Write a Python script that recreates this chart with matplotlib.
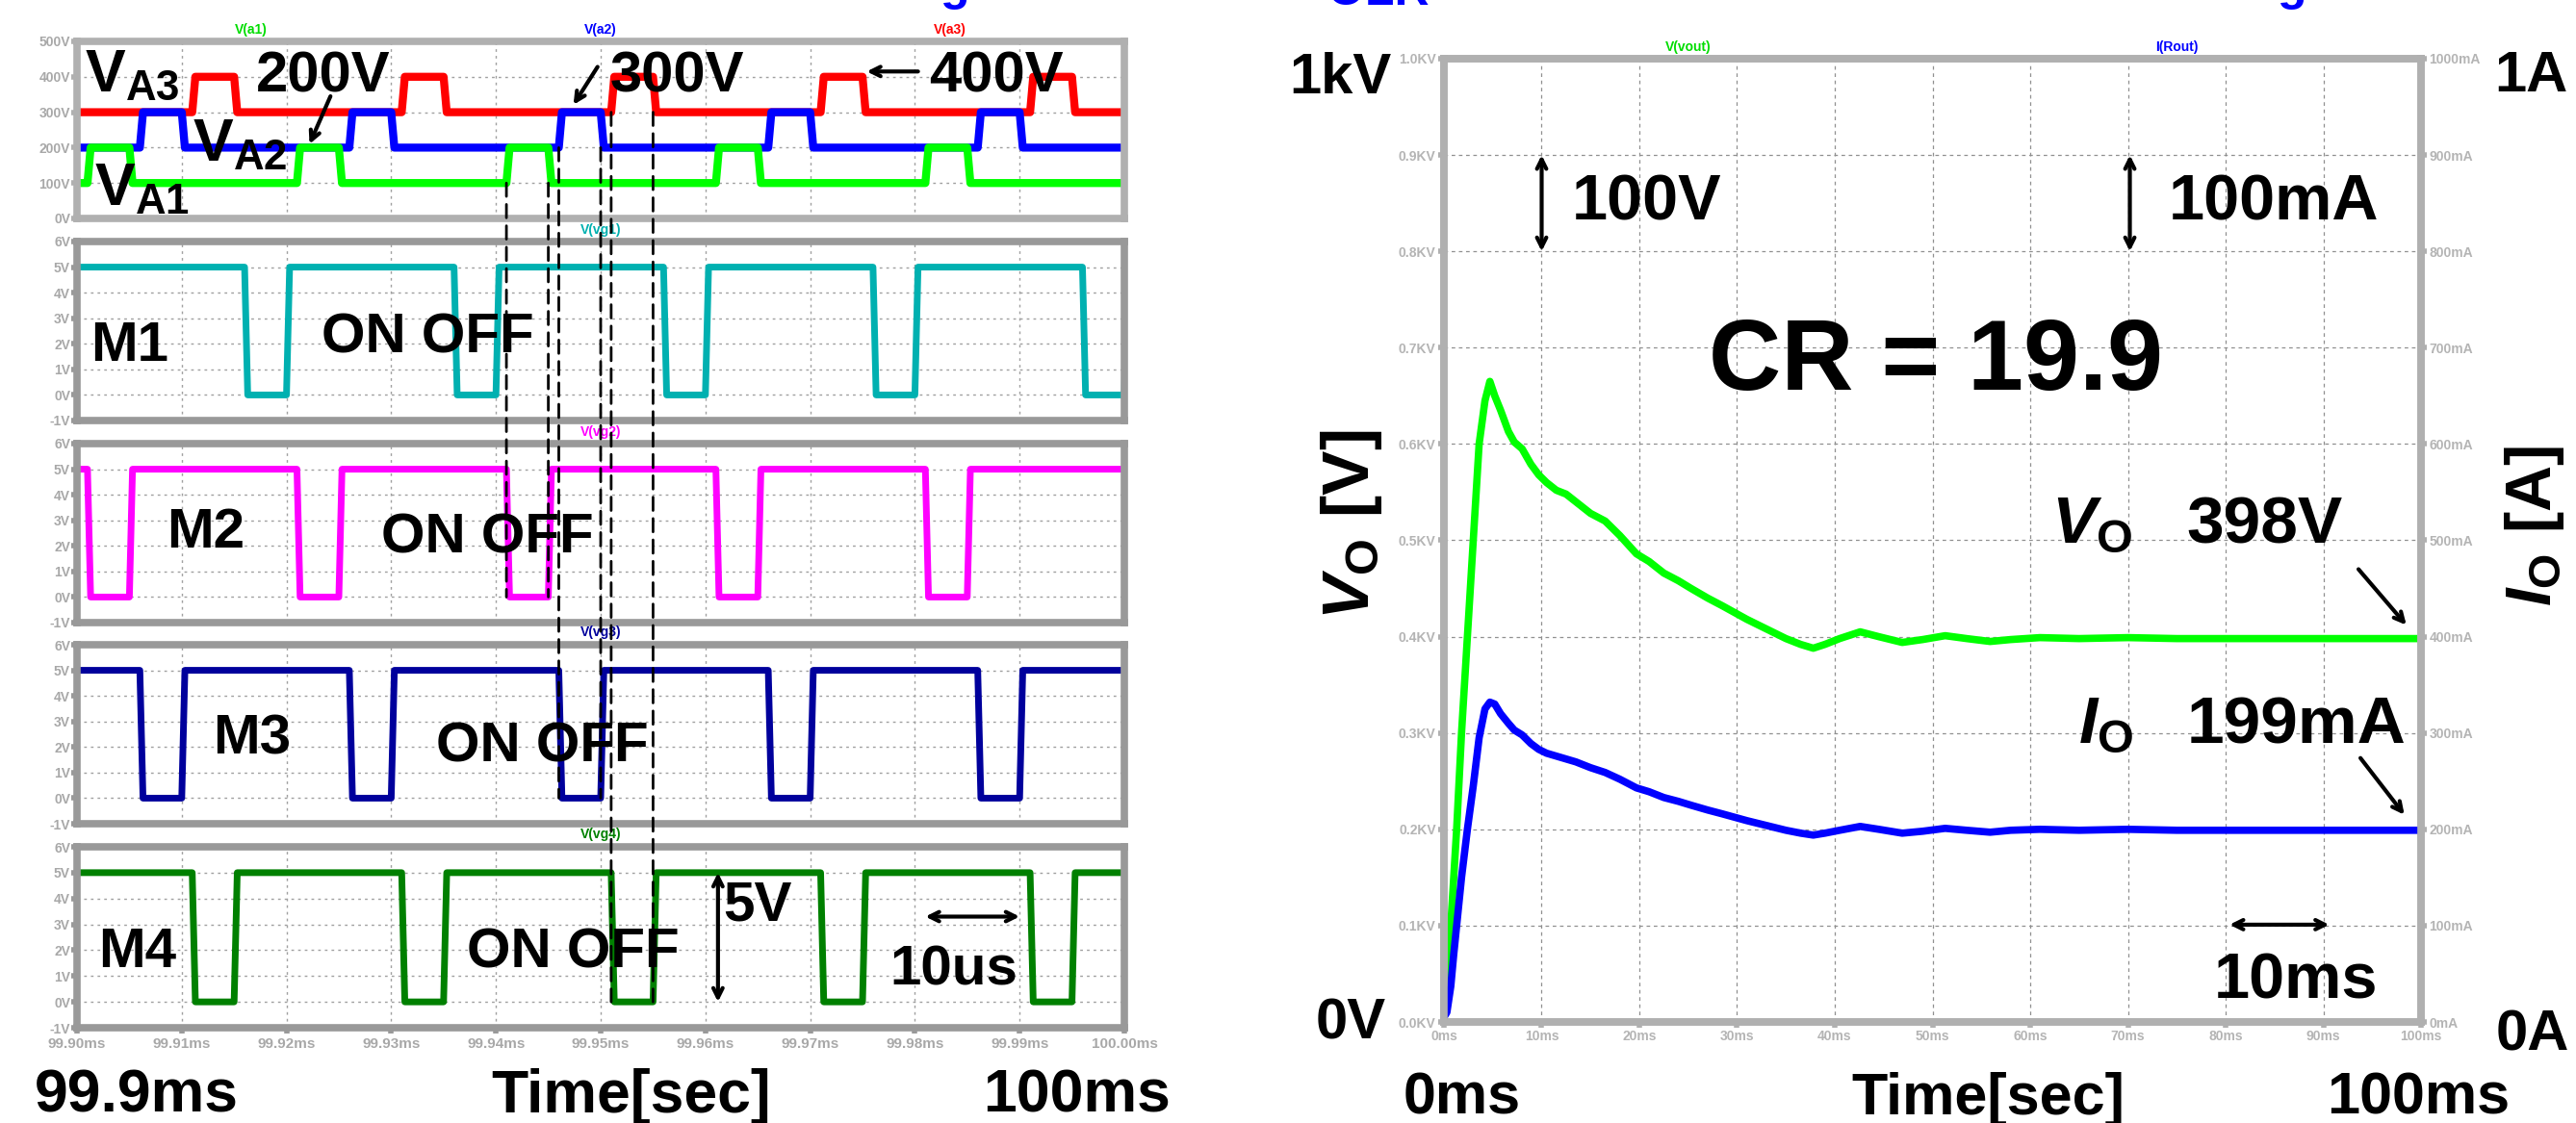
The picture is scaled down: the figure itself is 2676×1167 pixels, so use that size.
import matplotlib
matplotlib.use('Agg')
import matplotlib.pyplot as plt
from matplotlib.patches import ConnectionPatch
from matplotlib.ticker import FuncFormatter, MultipleLocator

plt.rcParams['font.family'] = ['Liberation Sans', 'DejaVu Sans']
plt.rcParams['font.weight'] = 'bold'
plt.rcParams['mathtext.fontset'] = 'custom'
plt.rcParams['mathtext.rm'] = 'Liberation Sans:bold'
plt.rcParams['mathtext.it'] = 'Liberation Sans:italic:bold'
plt.rcParams['mathtext.bf'] = 'Liberation Sans:bold'

# ---- left: time in us after 99.90 ms ----
va1_pulses = [(1, 5), (21, 25), (41, 45), (61, 65), (81, 85)]
va2_pulses = [(6, 10), (26, 30), (46, 50), (66, 70), (86, 90)]
va3_pulses = [(11, 15), (31, 35), (51, 55), (71, 75), (91, 95)]
va_low = [100, 200, 300]
va_high = [200, 300, 400]

m1_off = [(16, 20), (36, 40), (56, 60), (76, 80), (96, 100)]
m2_off = [(1, 5), (21, 25), (41, 45), (61, 65), (81, 85)]
m3_off = [(6, 10), (26, 30), (46, 50), (66, 70), (86, 90)]
m4_off = [(11, 15), (31, 35), (51, 55), (71, 75), (91, 95)]
gate_on, gate_off = 5, 0
gate_names = ['M1', 'M2', 'M3', 'M4']
gate_traces = ['V(vg1)', 'V(vg2)', 'V(vg3)', 'V(vg4)']

# dashed guide lines: time, VA level, gate panel
link_t = [41, 45, 46, 50, 51, 55]
link_lvl = [100, 100, 200, 200, 300, 300]
link_gate = [1, 1, 2, 2, 3, 3]

# ---- right: start-up transient ----
t_ms = [0, 0.3, 0.7, 1.0, 1.3, 1.8, 2.4, 3.0, 3.6, 4.2, 4.7, 5.2, 5.8, 6.6, 7.2, 8.0,
        8.9, 9.7, 10.5, 11.5, 12.5, 13.5, 15, 16.5, 18, 19.7, 21, 22.5, 24, 25.3, 27,
        28.5, 31, 33, 35, 36.5, 37.8, 39, 40.5, 42.6, 44.5, 46.9, 49, 51.3, 53.5, 55.9,
        58, 61, 65, 70, 75, 80, 90, 100]
vo_kv = [0.015, 0.05, 0.10, 0.15, 0.20, 0.30, 0.40, 0.50, 0.60, 0.645, 0.665, 0.650,
         0.635, 0.613, 0.602, 0.595, 0.579, 0.568, 0.560, 0.552, 0.548, 0.540, 0.528,
         0.520, 0.505, 0.486, 0.478, 0.466, 0.458, 0.450, 0.440, 0.432, 0.418, 0.408,
         0.398, 0.392, 0.388, 0.392, 0.398, 0.405, 0.400, 0.394, 0.397, 0.401, 0.398,
         0.395, 0.397, 0.399, 0.398, 0.399, 0.398, 0.398, 0.398, 0.398]
io_a = [0.005, 0.010, 0.037, 0.07, 0.10, 0.15, 0.20, 0.245, 0.295, 0.325, 0.332, 0.330,
        0.320, 0.310, 0.303, 0.298, 0.289, 0.283, 0.279, 0.276, 0.273, 0.270, 0.264,
        0.259, 0.252, 0.243, 0.239, 0.233, 0.229, 0.225, 0.220, 0.216, 0.209, 0.204,
        0.199, 0.196, 0.194, 0.196, 0.199, 0.203, 0.200, 0.196, 0.198, 0.201, 0.199,
        0.197, 0.199, 0.200, 0.199, 0.200, 0.199, 0.199, 0.199, 0.199]

W, H = 2676, 1167
fig = plt.figure(figsize=(W / 100, H / 100), dpi=100)


def box(l, t, r, b):
    return fig.add_axes([l / W, 1 - b / H, (r - l) / W, (b - t) / H])


def ftext(x, y, s, **kw):
    kw.setdefault('fontweight', 'bold')
    return fig.text(x / W, 1 - y / H, s, **kw)


def square_wave(pulses, base, top, edge=0.3, end=100):
    xs, ys = [0], [base]
    for a, b in pulses:
        xs += [a, a + edge, b, b + edge]
        ys += [base, top, top, base]
    if xs[-1] < end:
        xs.append(end)
        ys.append(base)
    return xs, ys


def style_left(ax, lo, hi, step, col):
    ax.set_xlim(0, 100)
    ax.set_ylim(lo, hi)
    ax.xaxis.set_major_locator(MultipleLocator(10))
    ax.yaxis.set_major_locator(MultipleLocator(step))
    ax.grid(True, color='#a0a0a0', lw=1, ls=(0, (2, 3)))
    ax.set_axisbelow(True)
    for s in ax.spines.values():
        s.set_color(col)
        s.set_linewidth(5.5)
    ax.tick_params(axis='y', length=4, width=4, color=col, labelcolor='#a8a8a8',
                   labelsize=10, pad=1)
    ax.yaxis.set_major_formatter(FuncFormatter(lambda v, p: f'{v:g}V'))
    ax.tick_params(axis='x', length=0, labelbottom=False)


def trace_label(ax, s, xf, col):
    ax.annotate(s, xy=(xf, 1), xycoords='axes fraction', xytext=(0, 9),
                textcoords='offset points', ha='center', va='center', color=col,
                fontsize=10, fontweight='bold', annotation_clip=False)


arrow1 = dict(arrowstyle='->,head_length=0.7,head_width=0.35', lw=3, color='black',
              shrinkA=0, shrinkB=0)
arrow2 = dict(arrowstyle='<->,head_length=0.7,head_width=0.35', lw=3, color='black',
              shrinkA=0, shrinkB=0)

# ---------------- VA panel ----------------
ax_va = box(80, 43, 1168, 227)
style_left(ax_va, 0, 500, 100, '#b0b0b0')
for pulses, lo, hi, col in zip([va3_pulses, va2_pulses, va1_pulses], va_low[::-1],
                               va_high[::-1], ['#ff0000', '#0000ff', '#00ff00']):
    x, y = square_wave(pulses, lo, hi)
    ax_va.plot(x, y, color=col, lw=6, solid_joinstyle='round', solid_capstyle='round')
trace_label(ax_va, 'V(a1)', 1 / 6, '#00dd00')
trace_label(ax_va, 'V(a2)', 0.5, '#0000ff')
trace_label(ax_va, 'V(a3)', 5 / 6, '#ff0000')

ax_va.text(0.7, 359, r'$\mathrm{V}_{\mathrm{A3}}$', fontsize=45, ha='left', va='baseline')
ax_va.text(11, 163, r'$\mathrm{V}_{\mathrm{A2}}$', fontsize=45, ha='left', va='baseline')
ax_va.text(1.7, 38, r'$\mathrm{V}_{\mathrm{A1}}$', fontsize=45, ha='left', va='baseline')
for s, xc in zip(['200V', '300V', '400V'], [23.5, 57.3, 87.8]):
    ax_va.text(xc, 357, s, fontsize=43, ha='center', va='baseline', fontweight='bold')
ax_va.annotate('', xy=(22.2, 210), xytext=(24.2, 345), arrowprops=arrow1)
ax_va.annotate('', xy=(47.4, 321), xytext=(49.7, 428), arrowprops=arrow1)
ax_va.annotate('', xy=(75.4, 415), xytext=(80.3, 415), arrowprops=arrow1)

# ---------------- gate panels ----------------
gate_rows = [(251, 437), (461, 647), (670, 856), (880, 1068)]
gate_cols = ['#00b0b0', '#ff00ff', '#00009c', '#008000']
gate_offs = [m1_off, m2_off, m3_off, m4_off]
name_pos = [(5.0, 1.9), (12.3, 2.5), (16.7, 2.3), (5.8, 1.9)]
onoff_pos = [(33.5, 2.2), (39.2, 2.3), (44.4, 2.0), (47.4, 1.9)]
gate_axes = []
for i, ((top, bot), col, offs) in enumerate(zip(gate_rows, gate_cols, gate_offs)):
    ax = box(80, top, 1168, bot)
    style_left(ax, -1, 6, 1, '#999999')
    x, y = square_wave(offs, gate_on, gate_off)
    ax.plot(x, y, color=col, lw=5, solid_joinstyle='round', solid_capstyle='round')
    trace_label(ax, gate_traces[i], 0.5, col)
    ax.text(*name_pos[i], gate_names[i], fontsize=42, ha='center', va='center',
            fontweight='bold')
    ax.text(*onoff_pos[i], 'ON OFF', fontsize=42, ha='center', va='center',
            fontweight='bold')
    gate_axes.append(ax)

ax_m4 = gate_axes[-1]
ax_m4.tick_params(axis='x', length=4, width=4, color='#999999', labelbottom=True,
                  labelcolor='#a8a8a8', labelsize=11, pad=3)
ax_m4.xaxis.set_major_formatter(FuncFormatter(lambda v, p: f'{99.9 + v / 1000:.2f}ms'))
ax_m4.annotate('', xy=(61.2, 0), xytext=(61.2, 5), arrowprops=arrow2)
ax_m4.text(65.0, 3.7, '5V', fontsize=42, ha='center', va='center', fontweight='bold')
ax_m4.annotate('', xy=(81, 3.3), xytext=(90, 3.3), arrowprops=arrow2)
ax_m4.text(83.7, 1.2, '10us', fontsize=42, ha='center', va='center', fontweight='bold')

for t, lvl, g in zip(link_t, link_lvl, link_gate):
    con = ConnectionPatch(xyA=(t, lvl), coordsA='data', axesA=ax_va,
                          xyB=(t, 0), coordsB='data', axesB=gate_axes[g],
                          color='black', lw=2, ls=(0, (5, 3)), zorder=10)
    fig.add_artist(con)

ftext(142, 1156, '99.9ms', ha='center', va='baseline', fontsize=45)
ftext(656, 1156, 'Time[sec]', ha='center', va='baseline', fontsize=45)
ftext(1119, 1156, '100ms', ha='center', va='baseline', fontsize=45)

# ---------------- right panel ----------------
axr = box(1500, 61, 2515, 1062)
axr.set_xlim(0, 100)
axr.set_ylim(0, 1)
axr.xaxis.set_major_locator(MultipleLocator(10))
axr.yaxis.set_major_locator(MultipleLocator(0.1))
axr.grid(True, color='#909090', lw=0.9, ls=(0, (3, 3)))
axr.set_axisbelow(True)
axr.xaxis.set_major_formatter(FuncFormatter(lambda v, p: f'{v:g}ms'))
axr.yaxis.set_major_formatter(FuncFormatter(lambda v, p: f'{v:.1f}KV'))
axr.tick_params(length=4, width=4, color='#b0b0b0', labelcolor='#b4b4b4',
                labelsize=10, pad=2)
axr.plot(t_ms, vo_kv, color='#00ff00', lw=5.5, solid_joinstyle='round')

ax2 = axr.twinx()
ax2.set_ylim(0, 1)
ax2.yaxis.set_major_locator(MultipleLocator(0.1))
ax2.yaxis.set_major_formatter(FuncFormatter(lambda v, p: f'{v * 1000:.0f}mA'))
ax2.tick_params(length=4, width=4, color='#b0b0b0', labelcolor='#b4b4b4',
                labelsize=10, pad=2)
ax2.plot(t_ms, io_a, color='#0000ff', lw=5.5, solid_joinstyle='round')
for a in (axr, ax2):
    for s in a.spines.values():
        s.set_color('#b0b0b0')
        s.set_linewidth(5.5)
trace_label(ax2, 'V(vout)', 0.25, '#00dd00')
trace_label(ax2, 'I(Rout)', 0.75, '#0000ff')

ax2.annotate('', xy=(10, 0.8), xytext=(10, 0.9), arrowprops=arrow2)
ax2.text(13.1, 0.85, '100V', fontsize=48, ha='left', va='center', fontweight='bold')
ax2.annotate('', xy=(70.2, 0.8), xytext=(70.2, 0.9), arrowprops=arrow2)
ax2.text(74.2, 0.85, '100mA', fontsize=48, ha='left', va='center', fontweight='bold')
ax2.text(50.3, 0.683, 'CR = 19.9', fontsize=75, ha='center', va='center',
         fontweight='bold')
ax2.text(70.5, 0.515, r'$\mathit{V}_{\mathrm{O}}$', fontsize=50, ha='right', va='center')
ax2.text(76.0, 0.515, '398V', fontsize=50, ha='left', va='center', fontweight='bold')
ax2.annotate('', xy=(98.5, 0.412), xytext=(93.6, 0.470), arrowprops=arrow1)
ax2.text(70.5, 0.307, r'$\mathit{I}_{\mathrm{O}}$', fontsize=50, ha='right', va='center')
ax2.text(76.0, 0.307, '199mA', fontsize=50, ha='left', va='center', fontweight='bold')
ax2.annotate('', xy=(98.3, 0.215), xytext=(93.8, 0.274), arrowprops=arrow1)
ax2.annotate('', xy=(80.4, 0.101), xytext=(90.6, 0.101), arrowprops=arrow2)
ax2.text(87.2, 0.041, '10ms', fontsize=48, ha='center', va='center', fontweight='bold')

ftext(1404, 545, r'$\mathit{V}_{\mathrm{O}}\ \mathrm{[V]}$', rotation=90, ha='center',
      va='center', fontsize=50)
ftext(2633, 546, r'$\mathit{I}_{\mathrm{O}}\ \mathrm{[A]}$', rotation=90, ha='center',
      va='center', fontsize=48)
ftext(1392, 97, '1kV', ha='center', va='baseline', fontsize=43)
ftext(2629, 95, '1A', ha='center', va='baseline', fontsize=43)
ftext(1403, 1080, '0V', ha='center', va='baseline', fontsize=43)
ftext(2631, 1092, '0A', ha='center', va='baseline', fontsize=43)
ftext(1519, 1158, '0ms', ha='center', va='baseline', fontsize=44)
ftext(2065, 1158, 'Time[sec]', ha='center', va='baseline', fontsize=44)
ftext(2512, 1158, '100ms', ha='center', va='baseline', fontsize=44)

# title fragments cut off at the top edge
ftext(1379, 5, 'OLR', ha='left', va='baseline', fontsize=36, color='#0000ff')
ftext(977, 0, 'g', ha='left', va='baseline', fontsize=36, color='#0000ff')
ftext(2366, 0, 'g', ha='left', va='baseline', fontsize=36, color='#0000ff')

fig.savefig('out.png', dpi=100)
